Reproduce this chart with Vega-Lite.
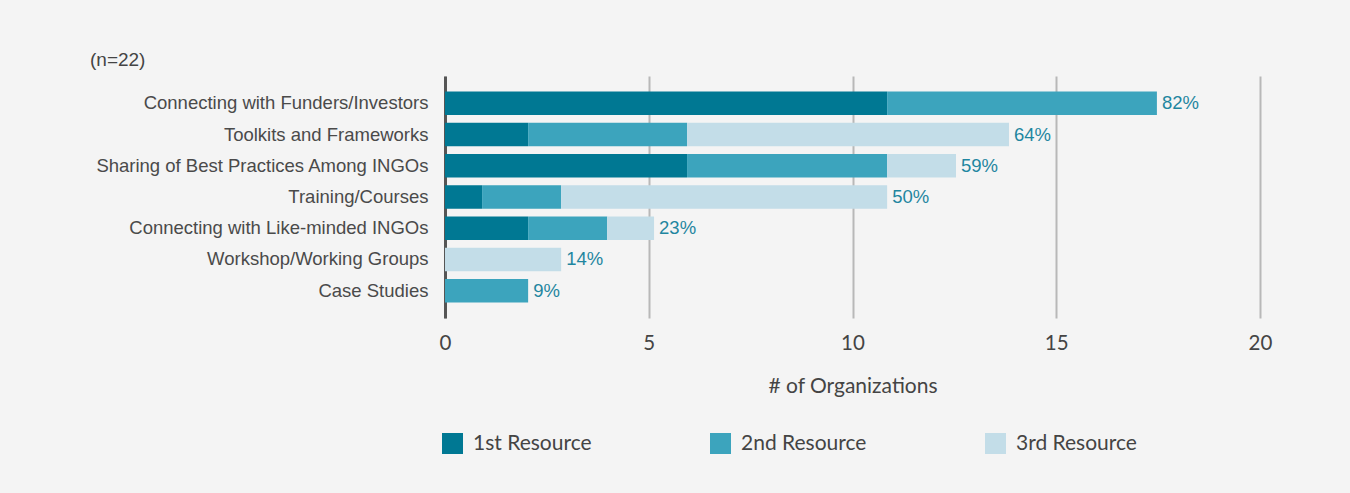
{
  "$schema": "https://vega.github.io/schema/vega-lite/v6.json",
  "autosize": {"type": "none"},
  "width": 815,
  "height": 242,
  "padding": {"left": 445, "top": 76, "right": 90, "bottom": 175},
  "background": "#f4f4f4",
  "title": {
    "text": "(n=22)",
    "anchor": "start",
    "frame": "group",
    "dx": -355,
    "offset": 6,
    "font": "Liberation Sans",
    "fontSize": 19,
    "fontWeight": "normal",
    "color": "#444444"
  },
  "data": {
    "values": [
      {"category": "Connecting with Funders/Investors", "resource": "1st Resource", "value": 10.85, "pct": "82%"},
      {"category": "Connecting with Funders/Investors", "resource": "2nd Resource", "value": 6.62, "pct": "82%"},
      {"category": "Toolkits and Frameworks", "resource": "1st Resource", "value": 2.04, "pct": "64%"},
      {"category": "Toolkits and Frameworks", "resource": "2nd Resource", "value": 3.9, "pct": "64%"},
      {"category": "Toolkits and Frameworks", "resource": "3rd Resource", "value": 7.9, "pct": "64%"},
      {"category": "Sharing of Best Practices Among INGOs", "resource": "1st Resource", "value": 5.94, "pct": "59%"},
      {"category": "Sharing of Best Practices Among INGOs", "resource": "2nd Resource", "value": 4.91, "pct": "59%"},
      {"category": "Sharing of Best Practices Among INGOs", "resource": "3rd Resource", "value": 1.69, "pct": "59%"},
      {"category": "Training/Courses", "resource": "1st Resource", "value": 0.91, "pct": "50%"},
      {"category": "Training/Courses", "resource": "2nd Resource", "value": 1.94, "pct": "50%"},
      {"category": "Training/Courses", "resource": "3rd Resource", "value": 8.0, "pct": "50%"},
      {"category": "Connecting with Like-minded INGOs", "resource": "1st Resource", "value": 2.04, "pct": "23%"},
      {"category": "Connecting with Like-minded INGOs", "resource": "2nd Resource", "value": 1.94, "pct": "23%"},
      {"category": "Connecting with Like-minded INGOs", "resource": "3rd Resource", "value": 1.15, "pct": "23%"},
      {"category": "Workshop/Working Groups", "resource": "3rd Resource", "value": 2.85, "pct": "14%"},
      {"category": "Case Studies", "resource": "2nd Resource", "value": 2.04, "pct": "9%"}
    ]
  },
  "encoding": {
    "y": {
      "field": "category",
      "type": "nominal",
      "sort": [
        "Connecting with Funders/Investors",
        "Toolkits and Frameworks",
        "Sharing of Best Practices Among INGOs",
        "Training/Courses",
        "Connecting with Like-minded INGOs",
        "Workshop/Working Groups",
        "Case Studies"
      ],
      "scale": {"paddingInner": 0.25, "paddingOuter": 0.5},
      "axis": {
        "title": null,
        "domain": true,
        "domainColor": "#555555",
        "domainWidth": 3,
        "ticks": false,
        "labelPadding": 17,
        "labelFont": "Liberation Sans",
        "labelFontSize": 18.5,
        "labelColor": "#4a4a4a",
        "labelLimit": 500
      }
    }
  },
  "layer": [
    {
      "mark": {"type": "bar"},
      "encoding": {
        "x": {
          "field": "value",
          "type": "quantitative",
          "stack": "zero",
          "scale": {"domain": [0, 20], "nice": false},
          "axis": {
            "title": "# of Organizations",
            "values": [0, 5, 10, 15, 20],
            "grid": true,
            "gridColor": "#b8b8b8",
            "gridWidth": 2,
            "domain": false,
            "ticks": false,
            "labelFlush": false,
            "labelBound": false,
            "labelOverlap": false,
            "labelPadding": 15,
            "labelFont": "Lato",
            "labelFontSize": 20.5,
            "labelColor": "#444444",
            "titleFont": "Lato",
            "titleFontSize": 21,
            "titleFontWeight": "normal",
            "titleColor": "#444444",
            "titlePadding": 22
          }
        },
        "color": {
          "field": "resource",
          "type": "nominal",
          "scale": {
            "domain": ["1st Resource", "2nd Resource", "3rd Resource"],
            "range": ["#007893", "#3ca4bd", "#c3dde8"]
          },
          "legend": {
            "title": null,
            "orient": "none",
            "direction": "horizontal",
            "legendX": -3,
            "legendY": 357,
            "symbolType": "square",
            "symbolSize": 441,
            "symbolStrokeWidth": 0,
            "symbolOpacity": 1,
            "labelFont": "Lato",
            "labelFontSize": 21,
            "labelColor": "#444444",
            "labelOffset": 10,
            "columnPadding": 118
          }
        },
        "order": {"field": "resource", "sort": "ascending"}
      }
    },
    {
      "transform": [
        {"aggregate": [{"op": "sum", "field": "value", "as": "total"}], "groupby": ["category", "pct"]}
      ],
      "mark": {
        "type": "text",
        "align": "left",
        "baseline": "middle",
        "dx": 5,
        "font": "Liberation Sans",
        "fontSize": 18.5,
        "color": "#1f86a0"
      },
      "encoding": {
        "x": {"field": "total", "type": "quantitative"},
        "text": {"field": "pct", "type": "nominal"}
      }
    }
  ],
  "config": {
    "view": {"stroke": null},
    "axis": {"gridColor": "#b8b8b8"}
  }
}
